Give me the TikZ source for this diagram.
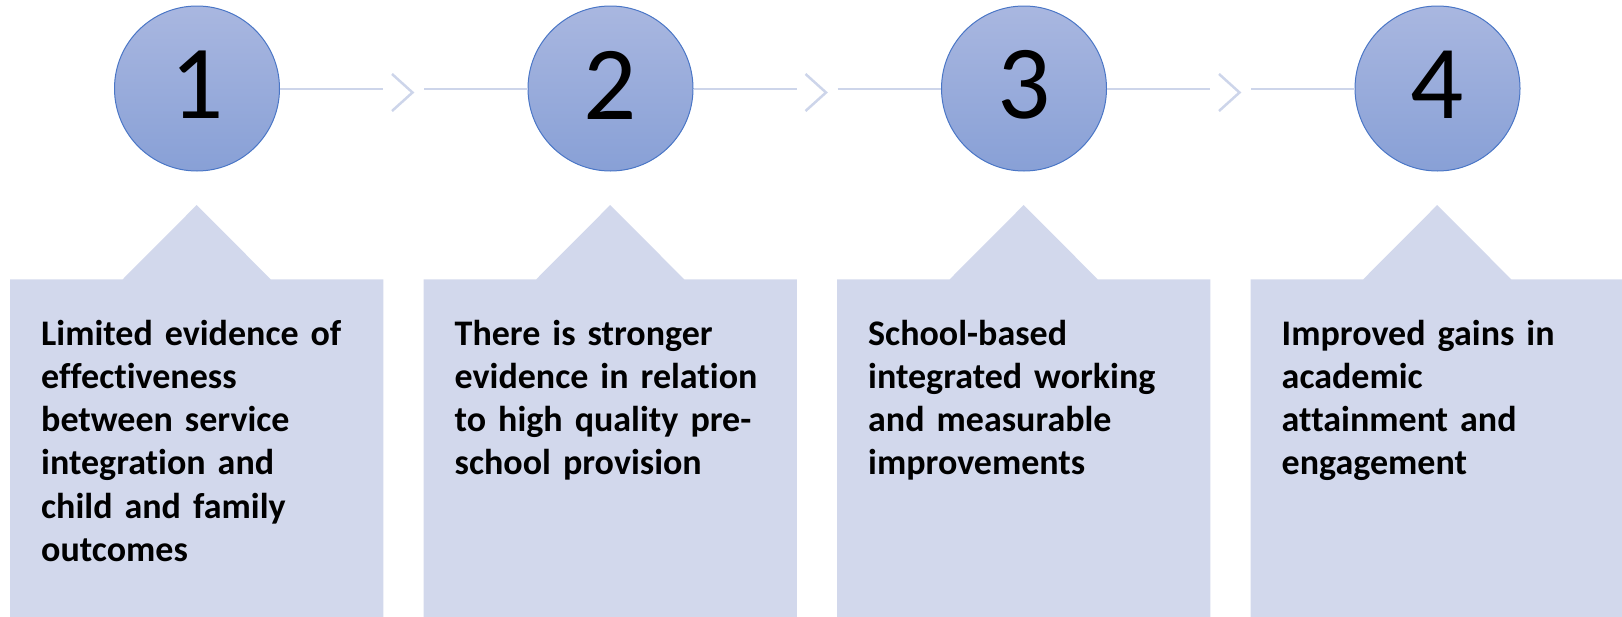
\documentclass[tikz,border=0pt]{standalone}
\usepackage{fontspec}
\setmainfont{Carlito}[RawFeature=-liga]
\definecolor{boxfill}{HTML}{D2D8EC}
\definecolor{connline}{HTML}{CDD5EA}
\definecolor{circtop}{HTML}{A9B7E0}
\definecolor{circbot}{HTML}{88A0D6}
\definecolor{circedge}{HTML}{4A76C6}
\begin{document}
\begin{tikzpicture}[x=1pt,y=-1pt,
  numcirc/.style={circle, minimum size=165pt, inner sep=0pt, draw=circedge, line width=1pt,
    top color=circtop, bottom color=circbot},
  numtext/.style={inner sep=0pt, font=\fontsize{105}{105}\selectfont},
  conn/.style={draw=connline, line width=2pt},
  chev/.style={draw=connline, line width=2.5pt, line join=miter},
  boxshape/.style={fill=boxfill},
  boxtext/.style={anchor=base west, inner sep=0pt, align=left, text width=340pt,
    font=\fontsize{36}{43.3}\selectfont\bfseries}]
\useasboundingbox (0,0) rectangle (1622,616);
% boxes
\foreach \i in {0,1,2,3}{
  \pgfmathsetmacro{\L}{10+413.5*\i}
  \fill[boxshape] (\L,279.3) -- ++(112.7,0) -- ++(74,-74.3) -- ++(74,74.3) -- ++(112.6,0)
     -- ++(0,340) -- ++(-373.3,0) -- cycle;
}
% circles
\node[numcirc] (c1) at (197,88.5) {};
\node[numcirc] (c2) at (610.5,88.5) {};
\node[numcirc] (c3) at (1024,88.5) {};
\node[numcirc] (c4) at (1437.5,88.5) {};
\node[numtext] (n1) at (197,85) {1};
\node[numtext] (n2) at (610.5,85) {2};
\node[numtext] (n3) at (1024,85) {3};
\node[numtext] (n4) at (1437.5,85) {4};
% connectors with chevrons
\foreach \a/\b [count=\k] in {c1/c2,c2/c3,c3/c4}{
  \pgfmathsetmacro{\X}{197+413.5*(\k-1)}
  \coordinate (e\k) at (\X+186,88.5);
  \coordinate (s\k) at (\X+227,88.5);
  \coordinate (kt\k) at (\X+195,74);
  \coordinate (kp\k) at (\X+215.5,92.5);
  \coordinate (kb\k) at (\X+195,111);
  \draw[conn] (\a.east) -- (e\k);
  \draw[conn] (s\k) -- (\b.west);
  \draw[chev] (kt\k) -- (kp\k) -- (kb\k);
}
% texts
\node[boxtext] (t1) at (41,345) {Limited evidence of\\effectiveness\\between service\\integration and\\child and family\\outcomes};
\node[boxtext] (t2) at (454.5,345) {There is stronger\\evidence in relation\\to high quality pre-\\school provision};
\node[boxtext] (t3) at (868,345) {School-based\\integrated working\\and measurable\\improvements};
\node[boxtext] (t4) at (1281.5,345) {Improved gains in\\academic\\attainment and\\engagement};
\end{tikzpicture}
\end{document}
